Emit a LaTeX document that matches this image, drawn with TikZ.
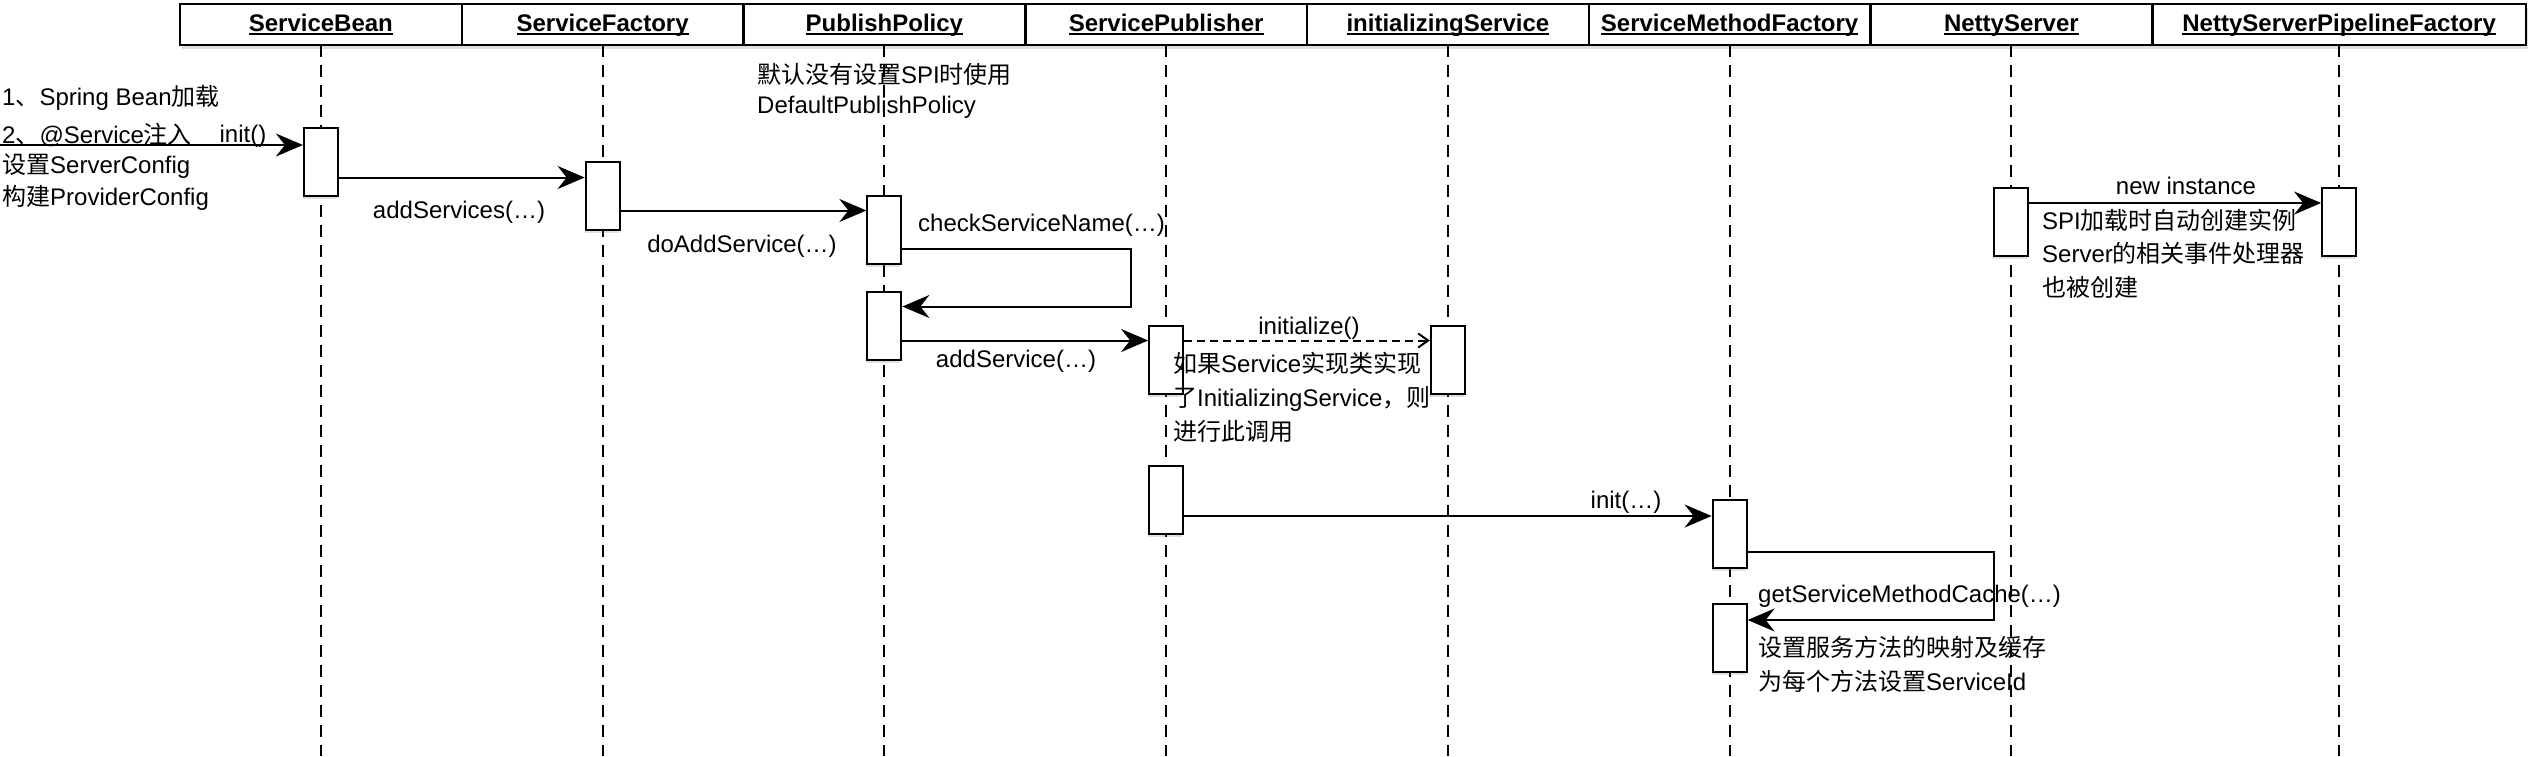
\documentclass[tikz,border=0pt]{standalone}
\usepackage{fontspec}
\setmainfont{Liberation Sans}
\newfontfamily\zhfont{Noto Sans CJK SC}
\usetikzlibrary{arrows.meta,shadows}
\newcommand{\zh}[1]{{\zhfont #1}}
\newcommand{\headline}[1]{\setbox0\hbox{#1}\rlap{\vrule height -1pt depth 3pt width \wd0}\box0}

\begin{document}
\begin{tikzpicture}[x=1pt, y=-1pt,
    every node/.style={font=\fontsize{24}{34}\selectfont, inner sep=0pt},
    head/.style={draw, line width=2.5pt, fill=white, minimum width=281.75pt, minimum height=41pt, outer sep=0pt,
        font=\fontsize{24}{34}\selectfont\bfseries, text height=18pt, text depth=4pt,
        drop shadow={shadow xshift=2pt, shadow yshift=-4pt, opacity=0.25}},
    life/.style={line width=2pt, dash pattern=on 12pt off 8pt},
    act/.style={draw, line width=2pt, fill=white, minimum width=34pt, minimum height=68pt,
        drop shadow={shadow xshift=-1pt, shadow yshift=-3pt, opacity=0.25}},
    call/.style={line width=2pt, -{Stealth[length=27pt, width=23pt, inset=9pt]}},
    back/.style={line width=2pt, dash pattern=on 8pt off 5pt, -{Straight Barb[length=10pt, width=14pt]}},
    note/.style={align=left, anchor=base west}]
    \useasboundingbox (0,0) rectangle (2532,756);

    % lifeline heads
    \node[head] (sb) at (320.875,24.5) {\headline{ServiceBean}};
    \node[head] (sf) at (602.625,24.5) {\headline{ServiceFactory}};
    \node[head] (pp) at (884.375,24.5) {\headline{PublishPolicy}};
    \node[head] (sp) at (1166.125,24.5) {\headline{ServicePublisher}};
    \node[head] (is) at (1447.875,24.5) {\headline{initializingService}};
    \node[head] (smf) at (1729.625,24.5) {\headline{ServiceMethodFactory}};
    \node[head] (ns) at (2011.375,24.5) {\headline{NettyServer}};
    \node[head, minimum width=373.75pt] (nspf) at (2339.125,24.5) {\headline{NettyServerPipelineFactory}};

    \draw[life] (sb.south) -- (sb.south |- 0,756);
    \draw[life] (sf.south) -- (sf.south |- 0,756);
    \draw[life] (pp.south) -- (pp.south |- 0,756);
    \draw[life] (sp.south) -- (sp.south |- 0,756);
    \draw[life] (is.south) -- (is.south |- 0,756);
    \draw[life] (smf.south) -- (smf.south |- 0,756);
    \draw[life] (ns.south) -- (ns.south |- 0,756);
    \draw[life] (nspf.south) -- (nspf.south |- 0,756);

    % activations
    \node[act] (sb1) at (sb |- 0,161.5) {};
    \node[act] (sf1) at (sf |- 0,195.5) {};
    \node[act] (pp1) at (pp |- 0,229.5) {};
    \node[act] (pp2) at (pp |- 0,325.5) {};
    \node[act] (sp1) at (sp |- 0,359.5) {};
    \node[act] (is1) at (is |- 0,359.5) {};
    \node[act] (sp2) at (sp |- 0,499.5) {};
    \node[act] (smf1) at (smf |- 0,534) {};
    \node[act] (smf2) at (smf |- 0,638) {};
    \node[act] (ns1) at (ns |- 0,222) {};
    \node[act] (nspf1) at (nspf |- 0,222) {};

    % messages
    \coordinate (spring) at (0,145);
    \draw[call] (spring) -- (spring -| sb1.west);
    \draw[call] ([yshift=-17pt]sf1.north west -| sb1.east) -- ([yshift=-17pt]sf1.north west);
    \draw[call] ([yshift=-16pt]pp1.north west -| sf1.east) -- ([yshift=-16pt]pp1.north west);
    \draw[call] ([yshift=16pt]pp1.south east) -- ++(229,0) |- ([yshift=-16pt]pp2.north east);
    \draw[call] ([yshift=-16pt]sp1.north west -| pp2.east) -- ([yshift=-16pt]sp1.north west);
    \draw[back] ([yshift=-16pt]is1.north west -| sp1.east) -- ([yshift=-16pt]is1.north west);
    \draw[call] ([yshift=-17pt]smf1.north west -| sp2.east) -- ([yshift=-17pt]smf1.north west);
    \draw[call] ([yshift=17pt]smf1.south east) -- ++(246,0) |- ([yshift=-17pt]smf2.north east);
    \draw[call] ([yshift=-16pt]nspf1.north west -| ns1.east) -- ([yshift=-16pt]nspf1.north west);

    % labels
    \node[anchor=base] (linit) at (243,142) {init()};
    \node[anchor=base] (laddsvcs) at (459,218) {addServices(…)};
    \node[anchor=base] (ldoadd) at (742,252) {doAddService(…)};
    \node[anchor=base west] (lcheck) at (918,231) {checkServiceName(…)};
    \node[anchor=base] (laddsvc) at (1016,367) {addService(…)};
    \node[anchor=base] (linitz) at (1309,334) {initialize()};
    \node[anchor=base] (linitm) at (1626,508) {init(…)};
    \node[anchor=base west] (lcache) at (1758,602) {getServiceMethodCache(…)};
    \node[anchor=base] (lnew) at (2186,194) {new instance};

    % notes (base = last line)
    \node[note, font=\fontsize{24}{38}\selectfont] (nspring) at (2,143) {1\zh{、}Spring Bean\zh{加载}\\2\zh{、}@Service\zh{注入}};
    \node[note, font=\fontsize{24}{32}\selectfont] (nconfig) at (2,205) {\zh{设置}ServerConfig\\\zh{构建}ProviderConfig};
    \node[note, font=\fontsize{24}{30}\selectfont] (ndefault) at (757,113) {\zh{默认没有设置}SPI\zh{时使用}\\DefaultPublishPolicy};
    \node[note] (ninit) at (1173,440) {\zh{如果}Service\zh{实现类实现}\\\zh{了}InitializingService\zh{，则}\\\zh{进行此调用}};
    \node[note, font=\fontsize{24}{33.5}\selectfont] (nspi) at (2042,296) {SPI\zh{加载时自动创建实例}\\Server\zh{的相关事件处理器}\\\zh{也被创建}};
    \node[note] (ncache) at (1758,690) {\zh{设置服务方法的映射及缓存}\\\zh{为每个方法设置}ServiceId};
\end{tikzpicture}
\end{document}
